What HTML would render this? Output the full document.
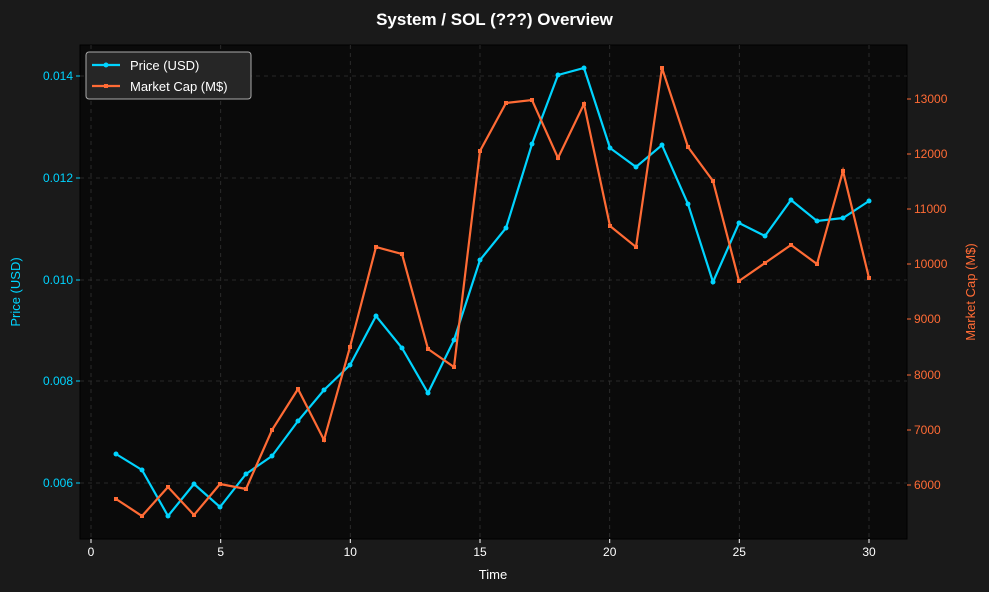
<!DOCTYPE html>
<html><head><style>
body{margin:0;background:#1a1a1a;}
svg{display:block;font-family:"Liberation Sans","DejaVu Sans",sans-serif;}
</style></head><body>
<svg width="989" height="592" viewBox="0 0 989 592">
<rect width="989" height="592" fill="#1a1a1a"/>
<text x="494.5" y="25" text-anchor="middle" fill="#fff" font-size="17" font-weight="bold">System / SOL (???) Overview</text>
<rect x="80" y="45" width="827" height="494" fill="#0a0a0a" stroke="#000" stroke-width="1"/>
<g stroke="#333" stroke-dasharray="4,4" stroke-width="0.8">
<line x1="91" y1="45" x2="91" y2="539"/><line x1="220.7" y1="45" x2="220.7" y2="539"/>
<line x1="350.3" y1="45" x2="350.3" y2="539"/><line x1="480" y1="45" x2="480" y2="539"/>
<line x1="609.7" y1="45" x2="609.7" y2="539"/><line x1="739.3" y1="45" x2="739.3" y2="539"/>
<line x1="869" y1="45" x2="869" y2="539"/>
<line x1="80" y1="76" x2="907" y2="76"/><line x1="80" y1="178" x2="907" y2="178"/>
<line x1="80" y1="280" x2="907" y2="280"/><line x1="80" y1="381" x2="907" y2="381"/>
<line x1="80" y1="483" x2="907" y2="483"/>
</g>
<g fill="#fff" font-size="12" text-anchor="middle">
<text x="91" y="556">0</text><text x="220.7" y="556">5</text><text x="350.3" y="556">10</text>
<text x="480" y="556">15</text><text x="609.7" y="556">20</text><text x="739.3" y="556">25</text><text x="869" y="556">30</text>
<text x="493" y="579" font-size="13">Time</text>
</g>
<g stroke="#fff"><line x1="91" y1="539" x2="91" y2="543"/><line x1="220.7" y1="539" x2="220.7" y2="543"/><line x1="350.3" y1="539" x2="350.3" y2="543"/><line x1="480" y1="539" x2="480" y2="543"/><line x1="609.7" y1="539" x2="609.7" y2="543"/><line x1="739.3" y1="539" x2="739.3" y2="543"/><line x1="869" y1="539" x2="869" y2="543"/></g>
<g stroke="#00d4ff"><line x1="76" y1="76" x2="80" y2="76"/><line x1="76" y1="178" x2="80" y2="178"/><line x1="76" y1="280" x2="80" y2="280"/><line x1="76" y1="381" x2="80" y2="381"/><line x1="76" y1="483" x2="80" y2="483"/></g>
<g stroke="#ff6b35"><line x1="907" y1="99" x2="911" y2="99"/><line x1="907" y1="154" x2="911" y2="154"/><line x1="907" y1="209" x2="911" y2="209"/><line x1="907" y1="264" x2="911" y2="264"/><line x1="907" y1="319" x2="911" y2="319"/><line x1="907" y1="375" x2="911" y2="375"/><line x1="907" y1="430" x2="911" y2="430"/><line x1="907" y1="485" x2="911" y2="485"/></g>
<g fill="#00d4ff" font-size="12" text-anchor="end">
<text x="73" y="80">0.014</text><text x="73" y="182">0.012</text><text x="73" y="284">0.010</text><text x="73" y="385">0.008</text><text x="73" y="487">0.006</text>
</g>
<text transform="translate(20,292) rotate(-90)" fill="#00d4ff" font-size="13" text-anchor="middle">Price (USD)</text>
<g fill="#ff6b35" font-size="12">
<text x="914" y="103">13000</text><text x="914" y="158">12000</text><text x="914" y="213">11000</text><text x="914" y="268">10000</text><text x="914" y="323">9000</text><text x="914" y="379">8000</text><text x="914" y="434">7000</text><text x="914" y="489">6000</text>
</g>
<text transform="translate(975,292) rotate(-90)" fill="#ff6b35" font-size="13" text-anchor="middle">Market Cap (M$)</text>
<polyline fill="none" stroke="#00d4ff" stroke-width="2.2" points="116,454 142,470 168,516 194,484 220,507 246,474 272,456 298,421 324,390 350,365 376,316 402,348 428,393 454,340 480,260 506,228 532,144 558,75 584,68 610,148 636,167 662,145 688,204 713,282 739,223 765,236 791,200 817,221 843,218 869,201"/>
<g fill="#00d4ff">
<circle cx="116" cy="454" r="2.5"/><circle cx="142" cy="470" r="2.5"/><circle cx="168" cy="516" r="2.5"/><circle cx="194" cy="484" r="2.5"/><circle cx="220" cy="507" r="2.5"/><circle cx="246" cy="474" r="2.5"/><circle cx="272" cy="456" r="2.5"/><circle cx="298" cy="421" r="2.5"/><circle cx="324" cy="390" r="2.5"/><circle cx="350" cy="365" r="2.5"/><circle cx="376" cy="316" r="2.5"/><circle cx="402" cy="348" r="2.5"/><circle cx="428" cy="393" r="2.5"/><circle cx="454" cy="340" r="2.5"/><circle cx="480" cy="260" r="2.5"/><circle cx="506" cy="228" r="2.5"/><circle cx="532" cy="144" r="2.5"/><circle cx="558" cy="75" r="2.5"/><circle cx="584" cy="68" r="2.5"/><circle cx="610" cy="148" r="2.5"/><circle cx="636" cy="167" r="2.5"/><circle cx="662" cy="145" r="2.5"/><circle cx="688" cy="204" r="2.5"/><circle cx="713" cy="282" r="2.5"/><circle cx="739" cy="223" r="2.5"/><circle cx="765" cy="236" r="2.5"/><circle cx="791" cy="200" r="2.5"/><circle cx="817" cy="221" r="2.5"/><circle cx="843" cy="218" r="2.5"/><circle cx="869" cy="201" r="2.5"/>
</g>
<polyline fill="none" stroke="#ff6b35" stroke-width="2.2" points="116,499 142,516 168,487 194,515 220,484 246,489 272,430 298,389 324,440 350,347 376,247 402,254 428,349 454,367 480,151 506,103 532,100 558,158 584,104 610,226 636,247 662,68 688,147 713,181 739,281 765,263 791,245 817,264 843,171 869,278"/>
<g fill="#ff6b35">
<rect x="114" y="497" width="4" height="4"/><rect x="140" y="514" width="4" height="4"/><rect x="166" y="485" width="4" height="4"/><rect x="192" y="513" width="4" height="4"/><rect x="218" y="482" width="4" height="4"/><rect x="244" y="487" width="4" height="4"/><rect x="270" y="428" width="4" height="4"/><rect x="296" y="387" width="4" height="4"/><rect x="322" y="438" width="4" height="4"/><rect x="348" y="345" width="4" height="4"/><rect x="374" y="245" width="4" height="4"/><rect x="400" y="252" width="4" height="4"/><rect x="426" y="347" width="4" height="4"/><rect x="452" y="365" width="4" height="4"/><rect x="478" y="149" width="4" height="4"/><rect x="504" y="101" width="4" height="4"/><rect x="530" y="98" width="4" height="4"/><rect x="556" y="156" width="4" height="4"/><rect x="582" y="102" width="4" height="4"/><rect x="608" y="224" width="4" height="4"/><rect x="634" y="245" width="4" height="4"/><rect x="660" y="66" width="4" height="4"/><rect x="686" y="145" width="4" height="4"/><rect x="711" y="179" width="4" height="4"/><rect x="737" y="279" width="4" height="4"/><rect x="763" y="261" width="4" height="4"/><rect x="789" y="243" width="4" height="4"/><rect x="815" y="262" width="4" height="4"/><rect x="841" y="169" width="4" height="4"/><rect x="867" y="276" width="4" height="4"/>
</g>
<rect x="86" y="52" width="165" height="47" rx="3" fill="#262626" stroke="#aaa" stroke-width="1"/>
<line x1="92" y1="65" x2="120" y2="65" stroke="#00d4ff" stroke-width="2.2"/><circle cx="106" cy="65" r="2.5" fill="#00d4ff"/>
<text x="130" y="70" fill="#fff" font-size="13">Price (USD)</text>
<line x1="92" y1="86" x2="120" y2="86" stroke="#ff6b35" stroke-width="2.2"/><rect x="104" y="84" width="4" height="4" fill="#ff6b35"/>
<text x="130" y="91" fill="#fff" font-size="13">Market Cap (M$)</text>
</svg>
</body></html>
